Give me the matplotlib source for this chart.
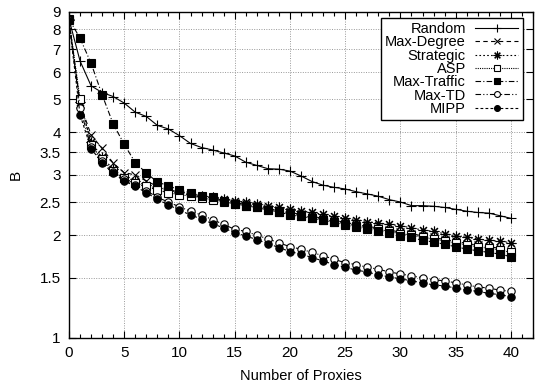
import matplotlib
matplotlib.use('Agg')
import matplotlib.pyplot as plt
from matplotlib.ticker import FixedLocator, FixedFormatter, MultipleLocator, NullLocator

plt.rcParams['font.family'] = ['Liberation Sans', 'DejaVu Sans']

# number of proxies 0..40
proxies = list(range(41))

random_b = [8.58, 6.47, 5.47, 5.23, 5.09, 4.87, 4.58, 4.45, 4.19, 4.09, 3.91,
            3.71, 3.61, 3.55, 3.48, 3.41, 3.27, 3.20, 3.13, 3.12, 3.08,
            2.98, 2.87, 2.80, 2.76, 2.73, 2.68, 2.64, 2.60, 2.54, 2.50,
            2.44, 2.44, 2.43, 2.41, 2.38, 2.35, 2.33, 2.32, 2.28, 2.24]
maxdeg_b = [8.50, 4.85, 3.93, 3.59, 3.25, 3.05, 3.00, 2.88, 2.78, 2.72, 2.67,
            2.62, 2.59, 2.56, 2.52, 2.49, 2.46, 2.43, 2.39, 2.36, 2.33,
            2.30, 2.27, 2.24, 2.21, 2.18, 2.15, 2.12, 2.10, 2.07, 2.04,
            2.02, 1.99, 1.97, 1.94, 1.92, 1.89, 1.87, 1.85, 1.83, 1.80]
strategic_b = [8.50, 4.90, 3.75, 3.38, 3.12, 2.96, 2.88, 2.80, 2.74, 2.70, 2.67,
               2.64, 2.61, 2.58, 2.55, 2.52, 2.50, 2.47, 2.44, 2.41, 2.38,
               2.35, 2.33, 2.30, 2.27, 2.24, 2.22, 2.19, 2.17, 2.15, 2.13,
               2.10, 2.07, 2.05, 2.02, 1.99, 1.97, 1.95, 1.93, 1.92, 1.90]
asp_b = [8.55, 5.00, 3.68, 3.33, 3.08, 2.93, 2.84, 2.78, 2.71, 2.66, 2.63,
         2.60, 2.57, 2.54, 2.50, 2.47, 2.44, 2.41, 2.37, 2.34, 2.31,
         2.28, 2.25, 2.22, 2.19, 2.16, 2.13, 2.10, 2.08, 2.05, 2.02,
         2.00, 1.97, 1.95, 1.92, 1.90, 1.87, 1.85, 1.83, 1.81, 1.78]
maxtraffic_b = [8.58, 7.54, 6.37, 5.15, 4.23, 3.69, 3.26, 3.04, 2.86, 2.79, 2.71,
                2.66, 2.60, 2.58, 2.51, 2.47, 2.44, 2.41, 2.37, 2.34, 2.29,
                2.27, 2.24, 2.21, 2.18, 2.14, 2.11, 2.08, 2.06, 2.03, 1.99,
                1.97, 1.93, 1.91, 1.88, 1.85, 1.82, 1.80, 1.78, 1.76, 1.73]
maxtd_b = [8.50, 4.71, 3.62, 3.30, 3.06, 2.91, 2.81, 2.70, 2.58, 2.50, 2.42,
           2.35, 2.29, 2.22, 2.15, 2.08, 2.05, 2.00, 1.95, 1.90, 1.85,
           1.82, 1.78, 1.74, 1.70, 1.66, 1.64, 1.61, 1.59, 1.56, 1.54,
           1.52, 1.50, 1.48, 1.47, 1.45, 1.43, 1.41, 1.40, 1.38, 1.37]
mipp_b = [8.45, 4.50, 3.58, 3.26, 3.03, 2.88, 2.78, 2.66, 2.55, 2.45, 2.37,
          2.29, 2.23, 2.16, 2.10, 2.03, 1.99, 1.94, 1.89, 1.84, 1.79,
          1.76, 1.72, 1.68, 1.64, 1.61, 1.58, 1.56, 1.53, 1.51, 1.49,
          1.47, 1.45, 1.43, 1.42, 1.40, 1.38, 1.37, 1.35, 1.34, 1.32]

ytick_vals = [1, 1.5, 2, 2.5, 3, 3.5, 4, 5, 6, 7, 8, 9]
ytick_labels = ['1', '1.5', '2', '2.5', '3', '3.5', '4', '5', '6', '7', '8', '9']

fig = plt.figure(figsize=(5.51, 3.86), dpi=100)
ax = fig.add_axes((0.1252, 0.1244, 0.8421, 0.8446))

lw = 0.8
ax.plot(proxies, random_b, color='k', lw=lw, ls='-', marker='+', ms=7, mew=0.8, label='Random')
ax.plot(proxies, maxdeg_b, color='k', lw=lw, ls=(0, (4, 3)), marker='x', ms=6, mew=0.8, label='Max-Degree')
ax.plot(proxies, strategic_b, color='k', lw=lw, ls=(0, (1.5, 2)), marker=(8, 2, 0), ms=7, mew=0.8, label='Strategic')
ax.plot(proxies, asp_b, color='k', lw=lw, ls=(0, (1, 1)), marker='s', ms=5.3, mfc='white', mew=0.8, label='ASP')
ax.plot(proxies, maxtraffic_b, color='k', lw=lw, ls=(0, (5, 2, 1, 2)), marker='s', ms=5.3, mfc='k', mew=0.8, label='Max-Traffic')
ax.plot(proxies, maxtd_b, color='k', lw=lw, ls=(0, (5, 2, 1, 2, 1, 2)), marker='o', ms=5.3, mfc='white', mew=0.8, label='Max-TD')
ax.plot(proxies, mipp_b, color='k', lw=lw, ls=(0, (2.5, 2)), marker='o', ms=5.3, mfc='k', mew=0.8, label='MIPP')

ax.set_yscale('log')
ax.set_ylim(1, 9)
ax.set_xlim(0, 42)
ax.yaxis.set_major_locator(FixedLocator(ytick_vals))
ax.yaxis.set_major_formatter(FixedFormatter(ytick_labels))
ax.yaxis.set_minor_locator(NullLocator())
ax.xaxis.set_major_locator(MultipleLocator(5))
ax.xaxis.set_minor_locator(MultipleLocator(1))
ax.set_xticks(range(0, 41, 5))

ax.tick_params(which='both', direction='in', top=True, right=True, labelsize=11, width=0.8, color='k')
ax.tick_params(which='major', length=5, pad=6)
ax.tick_params(which='minor', length=3)
for s in ax.spines.values():
    s.set_linewidth(1.0)

ax.grid(True, which='major', ls=(0, (1, 1.5)), color='#999999', lw=0.7)
ax.set_axisbelow(True)

ax.set_xlabel('Number of Proxies', fontsize=10.5, labelpad=6)
ax.set_ylabel('B', fontsize=11, labelpad=12)

leg = ax.legend(loc='upper right', bbox_to_anchor=(0.978, 0.982), borderaxespad=0,
                markerfirst=False, fontsize=10.5, handlelength=3.0, labelspacing=-0.05,
                borderpad=0.3, handletextpad=0.6, fancybox=False, framealpha=1,
                edgecolor='k', markerscale=0.8)
leg.get_frame().set_linewidth(1.0)

plt.savefig('out.png', dpi=100)
